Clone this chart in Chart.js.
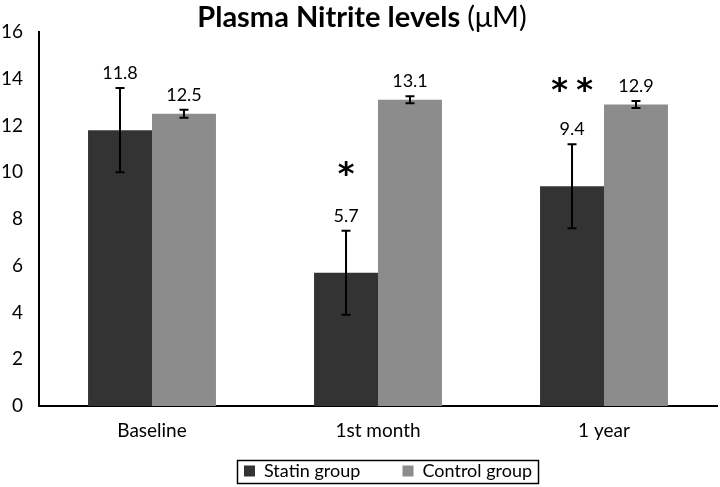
<!DOCTYPE html>
<html>
<head>
<meta charset="utf-8">
<script src="https://cdn.jsdelivr.net/npm/chart.js@4"></script>
<style>
  html, body { margin: 0; padding: 0; background: #fff; }
  #wrap { width: 720px; height: 487px; }
</style>
</head>
<body>
<div id="wrap"><canvas id="chart"></canvas></div>
<script>
const categories = ['Baseline', '1st month', '1 year']
const statinValues = [11.8, 5.7, 9.4]
const statinErrors = [1.8, 1.8, 1.8]
const controlValues = [12.5, 13.1, 12.9]
const controlErrors = [0.17, 0.15, 0.15]
// significance marks above the statin labels
const statinMarks = ['', '*', '**']
const yTicks = [0, 2, 4, 6, 8, 10, 12, 14, 16]

const FONT = 'Lato, "Open Sans", sans-serif'

// error bars + value labels + significance marks
const errorBarPlugin = {
  id: 'errorBars',
  afterDatasetsDraw(chart) {
    const ctx = chart.ctx
    const yScale = chart.scales.y
    const sets = [
      { values: statinValues, errors: statinErrors, marks: statinMarks },
      { values: controlValues, errors: controlErrors, marks: null }
    ]
    const cap = 4.5
    ctx.save()
    sets.forEach((s, di) => {
      const meta = chart.getDatasetMeta(di)
      meta.data.forEach((bar, i) => {
        const x = bar.x
        const yTop = yScale.getPixelForValue(s.values[i] + s.errors[i])
        const yBot = yScale.getPixelForValue(s.values[i] - s.errors[i])
        ctx.strokeStyle = '#000'
        ctx.lineWidth = 2
        ctx.beginPath()
        ctx.moveTo(x, yTop); ctx.lineTo(x, yBot)
        ctx.moveTo(x - cap, yTop); ctx.lineTo(x + cap, yTop)
        ctx.moveTo(x - cap, yBot); ctx.lineTo(x + cap, yBot)
        ctx.stroke()

        ctx.fillStyle = '#000'
        ctx.textAlign = 'center'
        ctx.textBaseline = 'middle'
        ctx.font = '18px ' + FONT
        const labelY = yTop - 15
        ctx.fillText(s.values[i].toFixed(1), x, labelY)
        if (s.marks && s.marks[i]) {
          const stars = s.marks[i].split('')
          ctx.font = 'bold 32px "DejaVu Sans"'
          ctx.textBaseline = 'alphabetic'
          const starY = stars.length > 1 ? labelY - 29 : labelY - 32
          stars.forEach((c, k) => {
            const sx = x + (k - (stars.length - 1) / 2) * 25
            ctx.fillText(c, sx, starY)
          })
        }
      })
    })
    ctx.restore()
  }
}

// move legend row, title with mixed weight, border round legend
const decorPlugin = {
  id: 'decor',
  afterLayout(chart) {
    const lg = chart.legend
    if (!lg || !lg.lineWidths) return
    const pad = lg.options.labels.padding
    const start = (lg.left + pad + lg.right - lg.lineWidths[0]) / 2
    const d = 244 - start
    lg.left += d
    lg.right += d
  },
  afterDraw(chart) {
    const ctx = chart.ctx
    ctx.save()
    ctx.fillStyle = '#000'
    ctx.textBaseline = 'middle'
    ctx.textAlign = 'left'
    const part1 = 'Plasma Nitrite levels '
    const part2 = '(\u03bcM)'
    ctx.font = 'bold 29px ' + FONT
    const w1 = ctx.measureText(part1).width
    ctx.font = '29px ' + FONT
    const w2 = ctx.measureText(part2).width
    const startX = 362 - (w1 + w2) / 2
    ctx.font = 'bold 29px ' + FONT
    ctx.fillText(part1, startX, 18)
    ctx.font = '29px ' + FONT
    ctx.fillText(part2, startX + w1, 18)

    const lg = chart.legend
    if (lg && lg.legendHitBoxes && lg.legendHitBoxes.length) {
      const hb = lg.legendHitBoxes
      const first = hb[0]
      const last = hb[hb.length - 1]
      const x0 = Math.round(first.left) - 7
      const x1 = Math.round(last.left + last.width) + 6
      const y0 = Math.round(first.top + first.height / 2) - 11
      ctx.strokeStyle = '#000'
      ctx.lineWidth = 1.5
      ctx.strokeRect(x0 + 0.5, y0 + 0.5, x1 - x0, 23)
    }
    ctx.restore()
  }
}

new Chart(document.getElementById('chart'), {
  type: 'bar',
  data: {
    labels: categories,
    datasets: [
      {
        label: 'Statin group',
        data: statinValues,
        backgroundColor: '#333333',
        borderWidth: 0
      },
      {
        label: 'Control group',
        data: controlValues,
        backgroundColor: '#8c8c8c',
        borderWidth: 0
      }
    ]
  },
  options: {
    responsive: true,
    maintainAspectRatio: false,
    animation: false,
    layout: { padding: { top: 32, right: 3, left: 0, bottom: -3 } },
    datasets: { bar: { categoryPercentage: 0.566, barPercentage: 1.0 } },
    plugins: {
      legend: {
        position: 'bottom',
        labels: {
          font: { family: FONT, size: 18 },
          color: '#000',
          boxWidth: 11,
          boxHeight: 11,
          padding: 10,
          generateLabels(chart) {
            const items = Chart.defaults.plugins.legend.labels.generateLabels(chart)
            items.forEach((it, i) => {
              it.lineWidth = 0
              if (i < items.length - 1) it.text = it.text + '       '
            })
            return items
          }
        }
      },
      title: { display: false },
      tooltip: { enabled: false }
    },
    scales: {
      x: {
        grid: { display: false, drawTicks: false },
        border: { color: '#000', width: 2 },
        ticks: { font: { family: FONT, size: 19 }, color: '#000', padding: 13 },
        afterFit(scale) { scale.height = 46 }
      },
      y: {
        min: 0,
        max: 16,
        afterBuildTicks(scale) { scale.ticks = yTicks.map(v => ({ value: v })) },
        grid: { display: false, drawTicks: false },
        border: { color: '#000', width: 2 },
        ticks: { font: { family: FONT, size: 19 }, color: '#000', padding: 16 },
        afterFit(scale) { scale.width = 39 }
      }
    }
  },
  plugins: [errorBarPlugin, decorPlugin]
})
</script>
</body>
</html>
